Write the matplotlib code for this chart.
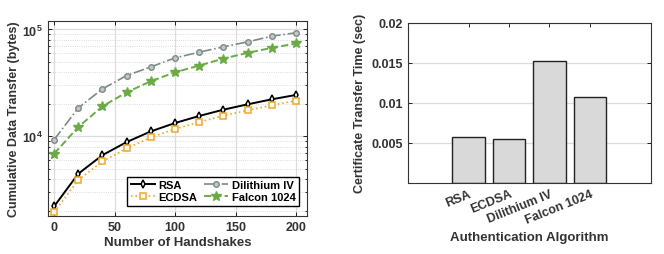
import matplotlib.pyplot as plt
from matplotlib.ticker import LogLocator, NullFormatter

plt.rcParams['font.family'] = ['Liberation Sans', 'DejaVu Sans']
plt.rcParams['font.weight'] = 'bold'
plt.rcParams['axes.labelweight'] = 'bold'

# left panel: cumulative bytes vs handshakes
handshakes = [0, 20, 40, 60, 80, 100, 120, 140, 160, 180, 200]
rsa_bytes = [2210, 4470, 6680, 8850, 11140, 13340, 15530, 17780, 19950, 22230, 24420]
ecdsa_bytes = [1950, 3900, 5830, 7720, 9780, 11720, 13620, 15630, 17540, 19500, 21600]
dilithium_bytes = [9300, 18450, 27800, 37060, 44670, 54200, 61330, 68800, 76600, 86600, 93100]
falcon_bytes = [6880, 12230, 19100, 25850, 32800, 39800, 45970, 53460, 60430, 67330, 73960]

# right panel: certificate transfer time
algorithms = ['RSA', 'ECDSA', 'Dilithium IV', 'Falcon 1024']
transfer_time = [0.00567, 0.0055, 0.01513, 0.01063]

fig = plt.figure(figsize=(6.64, 2.55), dpi=100)
ax1 = fig.add_axes([48 / 664, 1 - 217 / 255, 259 / 664, 195 / 255])
ax2 = fig.add_axes([408 / 664, 1 - 183.5 / 255, 242.5 / 664, 160 / 255])

fs = 9

ax1.plot(handshakes, rsa_bytes, '-', color='black', lw=1.4, marker='d',
         ms=4, mfc='white', mec='black', mew=1.1, label='RSA')
ax1.plot(handshakes, ecdsa_bytes, ':', color='#f0a82a', lw=1.2, marker='s',
         ms=3.8, mfc='white', mec='#f0a82a', mew=1.1, label='ECDSA')
ax1.plot(handshakes, dilithium_bytes, '-.', color='#7c8a88', lw=1.2, marker='o',
         ms=4, mfc='#c0c8c6', mec='#7c8a88', mew=1.0, label='Dilithium IV')
ax1.plot(handshakes, falcon_bytes, '--', color='#6aab45', lw=1.4, marker='*',
         ms=7, mfc='#6aab45', mec='#6aab45', label='Falcon 1024')

ax1.set_yscale('log')
ax1.set_xlim(-5, 209)
ax1.set_ylim(1800, 1.2e5)
ax1.set_xticks([0, 50, 100, 150, 200])
ax1.yaxis.set_major_locator(LogLocator(base=10, numticks=10))
ax1.yaxis.set_minor_locator(LogLocator(base=10, subs=range(2, 10), numticks=20))
ax1.yaxis.set_minor_formatter(NullFormatter())
ax1.grid(True, which='major', color='#dcdcdc', lw=0.9)
ax1.grid(True, which='minor', axis='y', color='#d0d0d0', lw=0.6, ls=':')
ax1.set_axisbelow(True)
ax1.set_xlabel('Number of Handshakes', fontsize=fs + 0.5, color='#333333', labelpad=2)
ax1.set_ylabel('Cumulative Data Transfer (bytes)', fontsize=fs, color='#333333', labelpad=2)
ax1.legend(loc='lower right', ncol=2, fontsize=fs - 1, frameon=True, fancybox=False,
           edgecolor='black', framealpha=1, handlelength=2.2, handletextpad=0.3,
           columnspacing=0.6, borderpad=0.3, labelspacing=0.2,
           bbox_to_anchor=(0.99, 0.025))

ax2.bar(range(1, 5), transfer_time, width=0.8, color='#d9d9d9', edgecolor='#222222', lw=1.0)
ax2.set_xlim(-0.5, 5.5)
ax2.set_ylim(0, 0.02)
ax2.set_yticks([0.005, 0.01, 0.015, 0.02])
ax2.set_yticklabels(['0.005', '0.01', '0.015', '0.02'])
ax2.set_xticks(range(1, 5))
ax2.set_xticklabels(algorithms, rotation=22, ha='right', rotation_mode='anchor')
ax2.grid(True, axis='y', color='#dcdcdc', lw=0.9)
ax2.set_axisbelow(True)
ax2.set_xlabel('Authentication Algorithm', fontsize=fs + 0.5, color='#333333', labelpad=4)
ax2.set_ylabel('Certificate Transfer Time (sec)', fontsize=fs, color='#333333', labelpad=4)

for ax in (ax1, ax2):
    ax.tick_params(which='both', direction='in', top=True, right=True,
                   labelsize=fs, labelcolor='#333333', length=3, width=0.6)
    ax.tick_params(which='minor', length=1.5)
    for sp in ax.spines.values():
        sp.set_color('#333333')
        sp.set_linewidth(0.8)
    for lab in ax.get_xticklabels() + ax.get_yticklabels():
        lab.set_fontweight('bold')

fig.savefig('out.png', dpi=100)
